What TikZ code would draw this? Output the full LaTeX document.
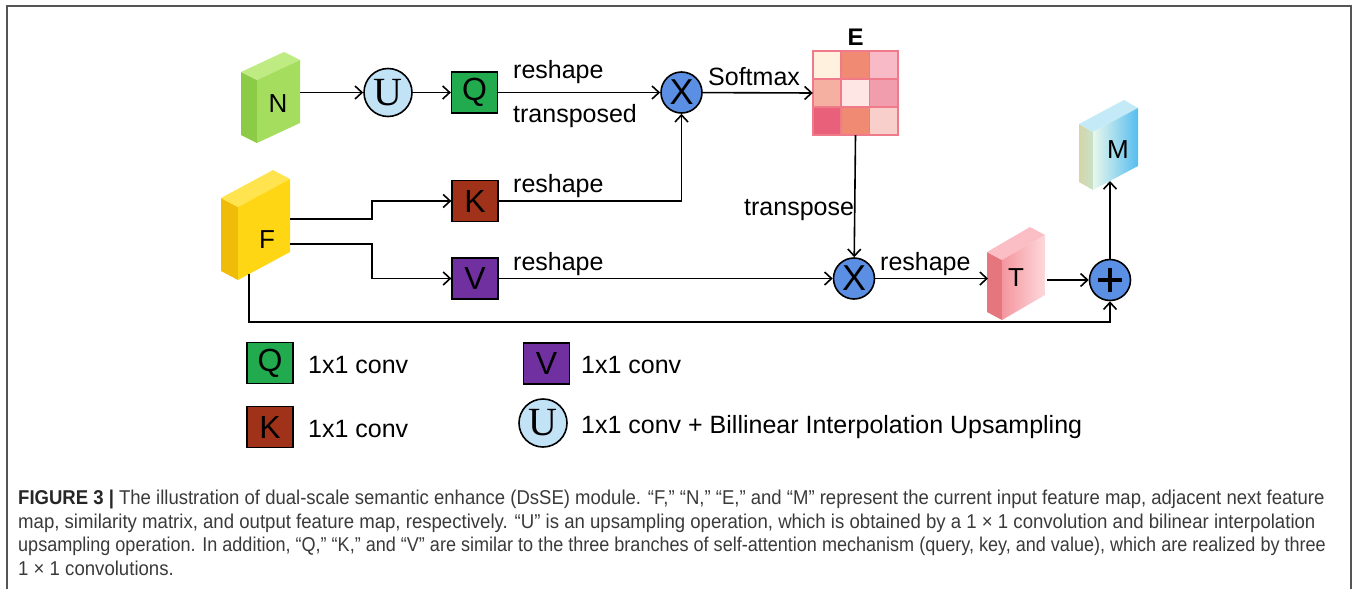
\documentclass[tikz,border=0pt]{standalone}
\usepackage{graphicx}
\usepackage{fontspec}
\setmainfont{Liberation Sans}
\newfontfamily\serifU{Liberation Serif}
\newfontfamily\capfont[FakeStretch=0.93]{Liberation Sans}
\usetikzlibrary{arrows.meta,calc}
\definecolor{ublue}{HTML}{C2E2F6}
\definecolor{xblue}{HTML}{5B8FE3}
\definecolor{qgreen}{HTML}{22AA4E}
\definecolor{kbrown}{HTML}{A0321A}
\definecolor{vpurple}{HTML}{7030A0}
\definecolor{e11}{HTML}{FFF1DE}
\definecolor{e12}{HTML}{F08A72}
\definecolor{e13}{HTML}{F7BAC6}
\definecolor{e21}{HTML}{F6B0A2}
\definecolor{e22}{HTML}{FDE6E4}
\definecolor{e23}{HTML}{F29DAE}
\definecolor{e31}{HTML}{E9607A}
\definecolor{e32}{HTML}{F08A72}
\definecolor{e33}{HTML}{F8CFCB}
\definecolor{egrid}{HTML}{EE7A8A}
\definecolor{capgray}{HTML}{3A3A3A}
\definecolor{framegray}{HTML}{555555}
\newcommand\cubecoords[8]{%
 \coordinate (#1A) at (#2,#3);
 \coordinate (#1B) at (#2+#4,#3-#5);
 \coordinate (#1C) at (#2+#4,#3-#5-#6);
 \coordinate (#1D) at (#2,#3-#6);
 \coordinate (#1A2) at (#2-#7,#3-#8);
 \coordinate (#1D2) at (#2-#7,#3-#6-#8);
 \coordinate (#1C2) at (#2+#4-#7,#3-#5-#6-#8);}
\begin{document}
\begin{tikzpicture}[x=1pt,y=-1pt,
  conn/.style={line width=1.6pt,-{Straight Barb[length=7pt,width=13pt,line width=1.6pt]}},
  convbox/.style={draw=black,line width=1.3pt,minimum width=46pt,minimum height=41pt,inner sep=0pt,font=\fontsize{32}{32}\selectfont},
  ucirc/.style={circle,draw=black,line width=1.6pt,fill=ublue,minimum size=48pt,inner sep=0pt,font=\serifU\fontsize{40}{40}\selectfont},
  xcirc/.style={circle,draw=black,line width=1.6pt,fill=xblue,minimum size=41pt,inner sep=0pt,font=\fontsize{36}{36}\selectfont},
  lbl/.style={anchor=base west,inner sep=0pt,font=\fontsize{25}{25}\selectfont},
  cubelbl/.style={inner sep=0pt,font=\fontsize{26}{26}\selectfont},
  capline/.style={anchor=base west,inner sep=0pt,text=capgray,font=\capfont\fontsize{20}{20}\selectfont}]
\useasboundingbox (0,0) rectangle (1359,589);
% frame
\draw[framegray,line width=1.5pt] (7,589) -- (7,6) -- (1351,6) -- (1351,589);

% ---- N cube
\cubecoords{n}{257}{143}{43}{20}{63}{16}{8}
\fill[fill={rgb,255:red,140;green,203;blue,69}] (nA)--(nD)--(nD2)--(nA2)--cycle;
\fill[fill={rgb,255:red,190;green,236;blue,130}] (nD)--(nC)--(nC2)--(nD2)--cycle;
\fill[fill={rgb,255:red,165;green,222;blue,95}] (nA)--(nB)--(nC)--(nD)--cycle;
\node[cubelbl] (N) at (278,104) {N};

% ---- F cube
\cubecoords{f}{238}{280}{52}{28}{73}{17}{9}
\fill[fill={rgb,255:red,240;green,188;blue,10}] (fA)--(fD)--(fD2)--(fA2)--cycle;
\fill[fill={rgb,255:red,255;green,228;blue,80}] (fD)--(fC)--(fC2)--(fD2)--cycle;
\fill[fill={rgb,255:red,255;green,214;blue,20}] (fA)--(fB)--(fC)--(fD)--cycle;
\node[cubelbl] (F) at (267,240) {F};

% ---- T cube
\cubecoords{t}{1002}{320}{43}{25}{60}{15}{8}
\fill[fill={rgb,255:red,229;green,118;blue,126}] (tA)--(tD)--(tD2)--(tA2)--cycle;
\fill[fill={rgb,255:red,250;green,190;blue,196}] (tD)--(tC)--(tC2)--(tD2)--cycle;
\shade[left color={rgb,255:red,244;green,150;blue,158},right color={rgb,255:red,253;green,216;blue,219}] (tA)--(tB)--(tC)--(tD)--cycle;
\node[cubelbl] (T) at (1016,278) {T};

% ---- M cube
\cubecoords{m}{1093}{190}{45}{24}{58}{14}{8}
\shade[left color={rgb,255:red,214;green,212;blue,168},right color={rgb,255:red,200;green,226;blue,200}] (mA)--(mD)--(mD2)--(mA2)--cycle;
\fill[fill={rgb,255:red,196;green,234;blue,247}] (mD)--(mC)--(mC2)--(mD2)--cycle;
\shade[left color={rgb,255:red,232;green,247;blue,236},right color={rgb,255:red,86;green,189;blue,240}] (mA)--(mB)--(mC)--(mD)--cycle;
\node[cubelbl] (M) at (1118,150) {M};

% ---- operators
\node[ucirc] (U) at (388,92.5) {U};
\node[convbox,fill=qgreen] (Q) at (474.5,92.5) {Q};
\node[convbox,fill=kbrown] (K) at (475,201) {K};
\node[convbox,fill=vpurple] (V) at (475,278.5) {V};
\node[xcirc] (X1) at (681.5,92.5) {X};
\node[xcirc] (X2) at (854,278.5) {X};
\node[xcirc,path picture={\draw[line width=4.5pt] ($(path picture bounding box.center)+(-12,0)$) -- ($(path picture bounding box.center)+(12,0)$);
  \draw[line width=4.5pt] ($(path picture bounding box.center)+(0,-12)$) -- ($(path picture bounding box.center)+(0,12)$);}] (P) at (1110,280) {};

% ---- E matrix
\node[minimum width=85pt,minimum height=84pt,inner sep=0pt] (E) at (855.5,93) {};
\foreach \r/\c/\col in {0/0/e11,0/1/e12,0/2/e13,1/0/e21,1/1/e22,1/2/e23,2/0/e31,2/1/e32,2/2/e33}
  \fill[\col] ($(E.north west)+(\c*85/3,\r*84/3)$) rectangle ++(85/3,84/3);
\foreach \i in {1,2} {
  \draw[egrid,line width=1.4pt] ($(E.north west)+(\i*85/3,0)$) -- ++(0,84);
  \draw[egrid,line width=1.4pt] ($(E.north west)+(0,\i*84/3)$) -- ++(85,0);}
\draw[egrid,line width=1.6pt] (E.north west) rectangle (E.south east);
\node[inner sep=0pt,anchor=base,font=\bfseries\fontsize{24}{24}\selectfont] (Elbl) at (855.5,45) {E};

% ---- connection points
\coordinate (Nout) at (300,92.5);
\coordinate (Fk) at (290,219);
\coordinate (Fv) at (290,244);
\coordinate (Fb) at (249,274);
\coordinate (Fbl) at (249,322);
\coordinate (Tin) at (988,278.5);
\coordinate (Tout) at (1047,280);
\coordinate (Mbot) at (1110,181);

% ---- connectors
\draw[conn] (Nout) -- (U);
\draw[conn] (U) -- (Q);
\draw[conn] (Q) -- (X1);
\draw[conn] (K.east) -| (X1.south);
\draw[conn] (Fk) -- ++(82,0) |- (K.west);
\draw[conn] (Fv) -- ++(82,0) |- (V.west);
\draw[conn] (V) -- (X2);
\draw[conn] (X1) -- (E.west);
\draw[conn] (E.south) -- (X2);
\draw[conn] (X2) -- (Tin);
\draw[conn] (Tout) -- (P);
\draw[conn] (P) -- (Mbot);
\draw[conn] (Fb) -- (Fbl) -| (P.south);

% ---- labels
\node[lbl] (l1) at (513,78) {reshape};
\node[lbl] (l2) at (513,122) {transposed};
\node[lbl] (l3) at (513,192) {reshape};
\node[lbl] (l4) at (513,270) {reshape};
\node[lbl] (l5) at (708,85) {Softmax};
\node[lbl] (l6) at (744,215) {transpose};
\node[lbl] (l7) at (880,270) {reshape};

% ---- legend
\node[convbox,fill=qgreen] (LQ) at (270,363) {Q};
\node[lbl] (LQt) at (308,373) {1x1 conv};
\node[convbox,fill=kbrown] (LK) at (270,427) {K};
\node[lbl] (LKt) at (308,437) {1x1 conv};
\node[convbox,fill=vpurple] (LV) at (546.5,363.5) {V};
\node[lbl] (LVt) at (581,373) {1x1 conv};
\node[ucirc] (LU) at (543,423) {U};
\node[lbl] (LUt) at (581,433) {1x1 conv + Billinear Interpolation Upsampling};

% ---- caption
\node[capline] (c1) at (18,504) {\scalebox{0.996}[1]{{\bfseries\color{black!85}FIGURE 3 |} The illustration of dual-scale semantic enhance (DsSE) module. “F,” “N,” “E,” and “M” represent the current input feature map, adjacent next feature}};
\node[capline] (c2) at (18,528) {map, similarity matrix, and output feature map, respectively. “U” is an upsampling operation, which is obtained by a 1 × 1 convolution and bilinear interpolation};
\node[capline] (c3) at (18,551.5) {\scalebox{0.97}[1]{upsampling operation. In addition, “Q,” “K,” and “V” are similar to the three branches of self-attention mechanism (query, key, and value), which are realized by three}};
\node[capline] (c4) at (18,575) {1 × 1 convolutions.};
\end{tikzpicture}
\end{document}
